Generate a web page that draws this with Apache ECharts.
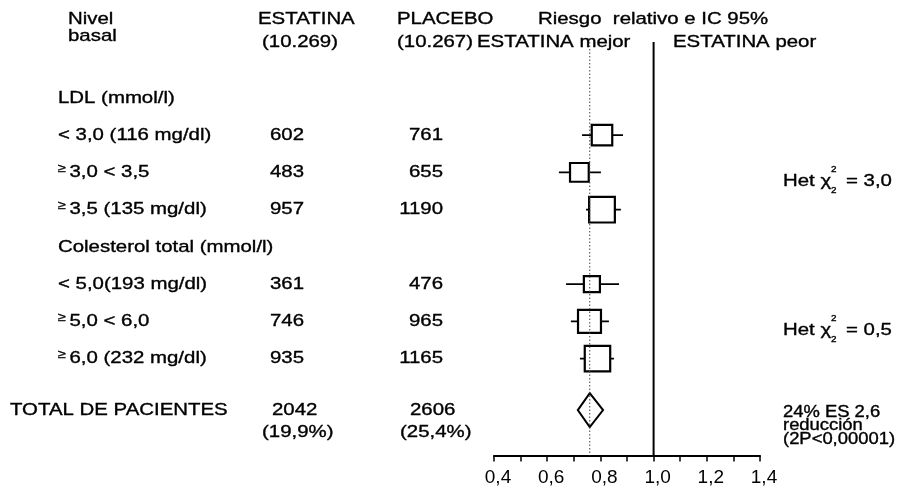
<!DOCTYPE html>
<html><head><meta charset="utf-8">
<script src="https://cdn.jsdelivr.net/npm/echarts@6/dist/echarts.min.js"></script>
<style>html,body{margin:0;padding:0;background:#fff}#c{width:910px;height:492px}</style>
</head><body><div id="c"></div>
<script>
// ---------------- data ----------------
const groupLabels = ['LDL (mmol/l)', 'Colesterol total (mmol/l)'];
const rowLabels = ['< 3,0 (116 mg/dl)', '{ge|≥}3,0 < 3,5', '{ge|≥}3,5 (135 mg/dl)',
                   '< 5,0(193 mg/dl)', '{ge|≥}5,0 < 6,0', '{ge|≥}6,0 (232 mg/dl)'];
const rowGroup = [0, 0, 0, 1, 1, 1];
const estatina = [602, 483, 957, 361, 746, 935];
const placebo  = [761, 655, 1190, 476, 965, 1165];
const rr       = [0.806, 0.721, 0.806, 0.768, 0.759, 0.789];
const rrLow    = [0.731, 0.644, 0.746, 0.671, 0.689, 0.723];
const rrHigh   = [0.885, 0.802, 0.877, 0.870, 0.832, 0.851];
const hetValues = ['3,0', '0,5'];
const totalLabel = 'TOTAL DE PACIENTES';
const totalCounts = ['2042', '2606'];
const totalPct = ['(19,9%)', '(25,4%)'];
const totalRR = [0.76, 0.715, 0.81];          // estimate, low, high
const headerCols = ['ESTATINA', 'PLACEBO'];
const headerN = ['(10.269)', '(10.267)'];
const xMin = 0.4, xMax = 1.4, xStep = 0.1;
const nullValue = 1.0;

// ---------------- layout helpers ----------------
const FS = 17, SX = 1.2, FONT = '"Liberation Sans", Arial, sans-serif';
const rowPos = [], groupPos = [];
let p = 0;
for (let g = 0; g < groupLabels.length; g++) {
  groupPos.push(p); p++;
  rowGroup.forEach((gg, i) => { if (gg === g) { rowPos[i] = p; p++; } });
}
const totalPos = p + 0.38;
const yMin = -1.5, yMax = 9.6;

const chart = echarts.init(document.getElementById('c'), null, {renderer: 'canvas'});

const boxData = rr.map((v, i) => [rowPos[i], v, rrLow[i], rrHigh[i], estatina[i] + placebo[i]]);

chart.setOption({
  backgroundColor: '#fff',
  animation: false,
  grid: {left: 494, right: 150, top: 42, bottom: 36.5},
  xAxis: {
    type: 'value', min: xMin, max: xMax, interval: xStep, position: 'bottom',
    splitLine: {show: false},
    axisLine: {show: true, onZero: false, lineStyle: {color: '#000', width: 2}},
    axisTick: {show: true, length: 6, lineStyle: {color: '#000', width: 1.5}},
    axisLabel: {
      color: '#000', fontSize: 19, fontFamily: FONT, margin: 13, padding: [0, 0, 0, 8],
      formatter: v => (Math.round(v * 10) % 2 === 0 ? v.toFixed(1).replace('.', ',') : '')
    }
  },
  yAxis: {type: 'value', inverse: true, min: yMin, max: yMax, show: false},
  series: [
    {
      type: 'line', data: [[nullValue, yMin], [nullValue, yMax]], symbol: 'none',
      lineStyle: {color: '#000', width: 2}, z: 3, silent: true
    },
    {
      type: 'custom', data: boxData, z: 4,
      encode: {x: [1, 2, 3], y: 0},
      renderItem: (params, api) => {
        const y = api.value(0);
        const c = api.coord([api.value(1), y]);
        const l = api.coord([api.value(2), y]);
        const h = api.coord([api.value(3), y]);
        const s = 0.555 * Math.sqrt(api.value(4));
        return {
          type: 'group', children: [
            {type: 'line', shape: {x1: l[0], y1: c[1], x2: h[0], y2: c[1]}, style: {stroke: '#000', lineWidth: 1.8}},
            {type: 'rect', shape: {x: c[0] - s / 2, y: c[1] - s / 2, width: s, height: s},
             style: {fill: '#fff', stroke: '#000', lineWidth: 2.2}}
          ]
        };
      }
    },
    {
      type: 'custom', data: [[totalPos, totalRR[0], totalRR[1], totalRR[2]]], z: 4,
      encode: {x: [1, 2, 3], y: 0},
      renderItem: (params, api) => {
        const y = api.value(0);
        const c = api.coord([api.value(1), y]);
        const l = api.coord([api.value(2), y]);
        const h = api.coord([api.value(3), y]);
        const hh = 17;
        return {
          type: 'polygon',
          shape: {points: [[l[0], c[1]], [c[0], c[1] - hh], [h[0], c[1]], [c[0], c[1] + hh]]},
          style: {fill: '#fff', stroke: '#000', lineWidth: 2}
        };
      }
    },
    {
      type: 'line', data: [[totalRR[0], yMin], [totalRR[0], yMax]], symbol: 'none',
      lineStyle: {color: '#444', width: 1, type: [1.5, 2]}, z: 6, silent: true
    }
  ]
});

// ---------------- text ----------------
const py = v => chart.convertToPixel({gridIndex: 0}, [xMin, v])[1];
const rich = {ge: {fontSize: 12, fontFamily: FONT, fill: '#000', verticalAlign: 'top', padding: [0, 3, 7, 0]}};
function T(text, x, y, align, opts) {
  opts = opts || {};
  return {
    type: 'text', x: x, y: y, scaleX: opts.sx || SX, z: 10,
    style: {
      text: text, fill: '#000', font: (opts.fs || FS) + 'px ' + FONT,
      stroke: '#000', lineWidth: 0.35,
      textAlign: align || 'left', align: align || 'left',
      textVerticalAlign: 'middle', verticalAlign: 'middle',
      rich: rich
    }
  };
}
const els = [];
// header
els.push(T('Nivel', 68, 19));
els.push(T('basal', 68, 36));
els.push(T(headerCols[0], 258, 19));
els.push(T(headerN[0], 262, 42));
els.push(T(headerCols[1], 397, 19));
els.push(T(headerN[1], 397, 42));
els.push(T('Riesgo  relativo e IC 95%', 538, 19));
els.push(T('ESTATINA mejor', 477, 42));
els.push(T('ESTATINA peor', 673, 42));
// groups
groupLabels.forEach((g, i) => els.push(T(g, 58, py(groupPos[i]))));
// rows
rowLabels.forEach((r, i) => {
  const y = py(rowPos[i]);
  els.push(T(r, 58, y));
  els.push(T(String(estatina[i]), 270, y));
  els.push(T(String(placebo[i]), 443, y, 'right'));
});
// het
hetValues.forEach((hv, g) => {
  const idx = rowGroup.map((gg, i) => gg === g ? rowPos[i] : null).filter(v => v !== null);
  const y = py(idx.reduce((a, b) => a + b, 0) / idx.length + 0.24);
  els.push(T('Het χ', 783, y));
  els.push(T('2', 831, y - 12, 'left', {fs: 9, sx: 1.1}));
  els.push(T('2', 831, y + 9, 'left', {fs: 9, sx: 1.1}));
  els.push(T('= ' + hv, 846, y));
});
// total
const ty = py(totalPos);
els.push(T(totalLabel, 10, ty));
els.push(T(totalCounts[0], 272, ty));
els.push(T(totalCounts[1], 410, ty));
els.push(T(totalPct[0], 262, ty + 22));
els.push(T(totalPct[1], 400, ty + 22));
els.push(T('24% ES 2,6', 783, ty + 3, 'left', {fs: 16, sx: 1.15}));
els.push(T('reducción', 783, ty + 16, 'left', {fs: 16, sx: 1.15}));
els.push(T('(2P<0,00001)', 783, ty + 30, 'left', {fs: 16, sx: 1.15}));

chart.setOption({graphic: {elements: els}});
</script></body></html>
